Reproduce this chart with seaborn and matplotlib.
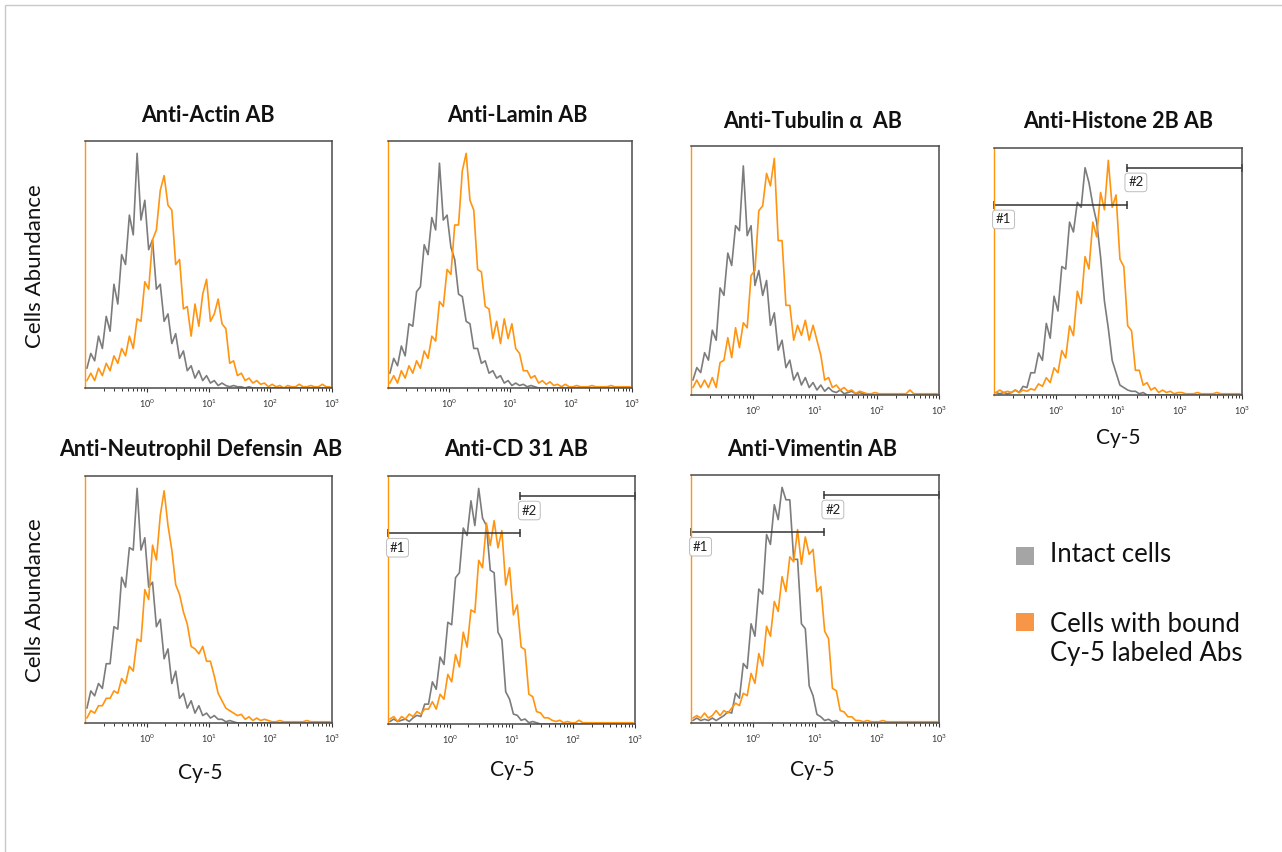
import numpy as np
import pandas as pd
import seaborn as sns
import matplotlib.pyplot as plt
import matplotlib.ticker as mticker
from matplotlib.patches import Rectangle

sns.set_theme(style="white")
plt.rcParams['font.family'] = ['Lato', 'DejaVu Sans']

# ---------------- data ----------------
N_BINS = 64
LOG_MIN, LOG_MAX = -1, 3          # Cy-5 axis: 10^-1 .. 10^3
cy5 = 10 ** (LOG_MIN + (np.arange(N_BINS) + 0.5) * (LOG_MAX - LOG_MIN) / N_BINS)

titles = ["Anti-Actin AB", "Anti-Lamin AB", "Anti-Tubulin \u03b1  AB", "Anti-Histone 2B AB",
          "Anti-Neutrophil Defensin  AB", "Anti-CD 31 AB", "Anti-Vimentin AB"]
series_names = ["Intact cells", "Cells with bound\nCy-5 labeled Abs"]

actin_intact = [8, 14, 11, 21, 16, 29, 23, 42, 34, 54, 50, 70, 62, 95, 68, 76, 56, 60, 40, 42,
                27, 30, 18, 22, 12, 15, 7, 9, 4, 7, 3, 5, 2, 3, 1, 2, 1, 0.5, 1, 0.5,
                0.5, 0, 0.5, 0, 0, 0, 0, 0, 0, 0, 0, 0, 0, 0, 0, 0, 0, 0, 0, 0, 0, 0, 0, 0]
actin_bound = [3, 6, 3, 8, 5, 10, 7, 13, 10, 16, 13, 21, 16, 28, 27, 43, 40, 60, 64, 80,
               86, 74, 72, 50, 52, 32, 33, 21, 34, 25, 38, 44, 27, 30, 36, 26, 24, 10, 11, 5,
               6, 3, 4, 2, 3, 1.5, 2, 0.5, 1.5, 0.5, 1, 0, 1, 0.5, 0.5, 1.5, 0.5, 0.5, 1, 0.5,
               0.5, 1.5, 0.5, 0.5]
lamin_intact = [6, 12, 9, 17, 13, 26, 25, 39, 41, 58, 54, 69, 64, 91, 68, 70, 57, 52, 38, 37,
                27, 26, 16, 16, 10, 11, 6, 7, 4, 5, 2, 3, 1, 2, 1, 1.5, 0.5, 1, 0.5, 0,
                0, 0, 0, 0, 0, 0, 0, 0, 0, 0, 0, 0, 0, 0, 0, 0, 0, 0, 0, 0, 0, 0, 0, 0]
lamin_bound = [2, 5, 2, 7, 4, 9, 6, 11, 8, 15, 12, 21, 19, 35, 33, 48, 46, 66, 66, 88,
               95, 76, 72, 48, 47, 33, 32, 20, 27, 18, 28, 20, 26, 16, 14, 7, 7, 4, 5, 2,
               3, 1.5, 2.5, 1, 1.5, 0.5, 1.5, 0.5, 0.5, 1, 0.5, 0.5, 0.5, 1, 0.5, 0.5, 0.5, 0.5, 1, 0.5,
               0.5, 0.5, 0.5, 0.5]
tubulin_intact = [6, 11, 9, 17, 14, 26, 22, 43, 40, 57, 52, 68, 66, 92, 64, 68, 44, 50, 40, 46,
                  28, 33, 18, 22, 11, 14, 6, 9, 4, 7, 3, 5, 2, 4, 1.5, 3, 1.5, 1, 2, 0.5,
                  1, 1.5, 0.5, 1, 0.5, 0, 0, 0, 0, 0, 0, 0, 0, 0, 0, 0, 0, 0, 0, 0, 0, 0, 0, 0]
tubulin_bound = [3, 6, 3, 6, 3, 7, 3, 13, 14, 23, 15, 27, 19, 29, 27, 48, 50, 74, 76, 89,
                 84, 95, 62, 62, 36, 36, 22, 28, 24, 30, 22, 28, 22, 16, 6, 7, 3, 4, 2, 3,
                 1.5, 2, 0.5, 1.5, 1, 0.5, 0.5, 1, 0.5, 0.5, 0.5, 0.5, 0.5, 0.5, 0.5, 0.5, 2, 0.5, 0.5, 0.5,
                 0.5, 0.5, 0.5, 0.5]
histone_intact = [1, 0.5, 1, 0.5, 1, 2, 1, 3.5, 3, 9, 9, 17, 14, 29, 23, 40, 34, 52, 51, 70,
                  66, 78, 76, 92, 86, 77, 70, 56, 38, 27, 14, 9, 4, 3, 2, 1.5, 1.5, 0.5, 1, 0,
                  0, 0, 0, 0, 0, 0, 0, 0, 0, 0, 0, 0, 0, 0, 0, 0, 0, 0, 0, 0, 0, 0, 0, 0]
histone_bound = [1, 2, 1, 1.5, 1, 2, 1, 2, 1.5, 2.5, 2, 4.5, 3.5, 7, 5, 11, 9, 18, 15, 28,
                 24, 42, 37, 56, 51, 70, 64, 82, 75, 95, 76, 81, 55, 52, 28, 26, 10, 10, 4, 5,
                 2, 3, 1, 2, 1, 1.5, 0.5, 1, 1, 0.5, 0.5, 0.5, 1, 0.5, 0.5, 0.5, 0.5, 1, 0.5, 0.5,
                 0.5, 0.5, 0.5, 0.5]
defensin_intact = [6, 13, 11, 16, 14, 24, 24, 39, 38, 59, 55, 71, 70, 95, 70, 75, 55, 57, 39, 42,
                   26, 30, 16, 21, 10, 12, 6, 9, 4, 7, 3, 4, 2, 3, 1.5, 1.5, 0.5, 1, 0.5, 0,
                   0, 0, 0, 0, 0, 0, 0, 0, 0, 0, 0, 0, 0, 0, 0, 0, 0, 0, 0, 0, 0, 0, 0, 0]
defensin_bound = [2, 5, 4, 7, 7, 10, 10, 13, 12, 18, 16, 23, 21, 34, 33, 54, 50, 72, 66, 84,
                  94, 80, 70, 56, 52, 45, 40, 31, 30, 28, 31, 25, 25, 19, 12, 9, 6, 5, 4, 3,
                  3.5, 1.5, 2.5, 1, 2, 1, 1.5, 1, 0.5, 0.5, 1, 0.5, 0.5, 0.5, 0.5, 0.5, 0.5, 1, 0.5, 0.5,
                  0.5, 0.5, 0.5, 0.5]
cd31_intact = [1, 2, 1, 1.5, 2, 1, 2.5, 3.5, 3, 8, 8, 17, 14, 27, 24, 41, 40, 59, 61, 79,
               76, 90, 80, 95, 83, 80, 62, 61, 37, 34, 13, 10, 4, 3.5, 1.5, 2, 0.5, 1, 0.5, 0,
               0, 0, 0, 0, 0, 0, 0, 0, 0, 0, 0, 0, 0, 0, 0, 0, 0, 0, 0, 0, 0, 0, 0, 0]
cd31_bound = [2, 3, 1, 3, 2, 4, 3, 5, 4, 6, 6, 9, 6, 12, 10, 20, 17, 28, 23, 37,
              31, 46, 45, 66, 63, 81, 72, 82, 71, 78, 56, 63, 44, 48, 31, 30, 12, 11, 5, 4.5,
              2.5, 2.5, 1.5, 1, 1.5, 0.5, 1, 0.5, 0.5, 1.5, 0.5, 0.5, 0.5, 0.5, 0.5, 0.5, 0.5, 0.5, 0.5, 0.5,
              0.5, 0.5, 0.5, 0.5]
vimentin_intact = [1, 2, 1, 1.5, 1, 2, 1, 2, 3, 4.5, 4, 12, 10, 24, 22, 40, 35, 54, 52, 76,
                   72, 88, 82, 95, 90, 90, 66, 66, 40, 38, 15, 11, 3.5, 2.5, 1, 1.5, 0.5, 1, 0, 0,
                   0, 0, 0, 0, 0, 0, 0, 0, 0, 0, 0, 0, 0, 0, 0, 0, 0, 0, 0, 0, 0, 0, 0, 0]
vimentin_bound = [2, 3, 2, 4, 2, 3, 5, 3, 5, 4, 6, 8, 7, 12, 11, 20, 16, 28, 23, 39,
                  35, 49, 45, 59, 53, 67, 65, 78, 64, 75, 68, 70, 53, 55, 37, 34, 14, 13, 5, 4.5,
                  2.5, 2.5, 1, 1, 0.5, 1, 0.5, 0.5, 0.5, 1, 0.5, 0.5, 0.5, 0.5, 0.5, 0.5, 0.5, 0.5, 0.5, 0.5,
                  0.5, 0.5, 0.5, 0.5]

intact = [actin_intact, lamin_intact, tubulin_intact, histone_intact,
          defensin_intact, cd31_intact, vimentin_intact]
bound = [actin_bound, lamin_bound, tubulin_bound, histone_bound,
         defensin_bound, cd31_bound, vimentin_bound]

# gates (Cy-5 boundary, gate heights in % of max)
gate_split = 10 ** 1.14
gate1_level, gate2_level = 77, 92
gated_panels = [3, 5, 6]

# ---------------- layout (pixels) ----------------
W, H = 1282, 852
boxes = [(85, 141, 332, 388), (388, 141, 632, 388), (691, 146, 939, 395), (994, 148, 1242, 395),
         (85, 476, 332, 723), (388, 476, 635, 724), (691, 475, 939, 723)]
title_pos = [(208, 115), (517, 115), (813, 122), (1118, 122), (201, 449), (516, 449), (812, 449)]
xlabel_pos = {3: (1118, 438), 4: (200, 773), 5: (512, 770), 6: (812, 770)}

GRAY = "#7c7c7c"
ORANGE = "#ff9410"
FRAME = "#4a4a4a"

fig = plt.figure(figsize=(W / 100, H / 100), dpi=100)
fig.patch.set_facecolor("white")

# outer light border
fig.add_artist(Rectangle((5 / W, -0.02), 1.02, 1 - 5 / H + 0.02, transform=fig.transFigure,
                         fill=False, ec="#c8c8c8", lw=1.0))

for k, (x0, y0, x1, y1) in enumerate(boxes):
    ax = fig.add_axes([x0 / W, 1 - y1 / H, (x1 - x0) / W, (y1 - y0) / H])
    df = pd.DataFrame({"Cy-5": np.concatenate([cy5, cy5]),
                       "count": np.concatenate([intact[k], bound[k]]),
                       "sample": [series_names[0]] * N_BINS + [series_names[1]] * N_BINS})
    sns.lineplot(data=df, x="Cy-5", y="count", hue="sample",
                 palette=[GRAY, ORANGE], ax=ax, legend=False,
                 lw=1.2, estimator=None)
    ax.set_xscale("log")
    ax.set_xlim(10 ** LOG_MIN, 10 ** LOG_MAX)
    ax.set_ylim(0, 100)
    ax.set_xlabel("")
    ax.set_ylabel("")
    ax.set_yticks([])
    ax.xaxis.set_major_locator(mticker.FixedLocator([1, 10, 100, 1000]))
    ax.xaxis.set_minor_locator(mticker.LogLocator(base=10, subs=np.arange(2, 10)))
    ax.xaxis.set_minor_formatter(mticker.NullFormatter())
    ax.tick_params(axis="x", which="major", direction="out", length=3, width=0.8,
                   color="#333333", labelsize=6.5, labelcolor="#333333", pad=4, bottom=True)
    ax.tick_params(axis="x", which="minor", direction="out", length=2, width=0.7,
                   color="#333333", bottom=True)
    for side in ["top", "right", "bottom"]:
        ax.spines[side].set_color(FRAME)
        ax.spines[side].set_linewidth(1.1)
    ax.spines["left"].set_color(ORANGE)
    ax.spines["left"].set_linewidth(1.0)

    tx, ty = title_pos[k]
    fig.text(tx / W, 1 - ty / H, titles[k], ha="center", va="center",
             fontsize=15.5, fontweight="bold", color="#111111")

    if k in gated_panels:
        ax.plot([10 ** LOG_MIN, gate_split], [gate1_level, gate1_level], color="#333333", lw=1.1,
                marker="|", markersize=6, markeredgewidth=1.1, clip_on=False)
        ax.plot([gate_split, 10 ** LOG_MAX], [gate2_level, gate2_level], color="#333333", lw=1.1,
                marker="|", markersize=6, markeredgewidth=1.1, clip_on=False)
        box = dict(boxstyle="round,pad=0.25", fc="white", ec="#bdbdbd", lw=0.7)
        ax.text(10 ** (LOG_MIN + 0.03), gate1_level - 3.5, "#1", fontsize=9.5, color="#222222",
                ha="left", va="top", bbox=box)
        ax.text(gate_split * 1.06, gate2_level - 3.5, "#2", fontsize=9.5, color="#222222",
                ha="left", va="top", bbox=box)

for k, (lx, ly) in xlabel_pos.items():
    fig.text(lx / W, 1 - ly / H, "Cy-5", ha="center", va="center", fontsize=15, color="#111111")

for cy in (266, 600):
    fig.text(35 / W, 1 - cy / H, "Cells Abundance", ha="center", va="center",
             rotation=90, fontsize=16, color="#111111")

# legend
fig.add_artist(Rectangle((1016 / W, 1 - 565 / H), 18 / W, 18 / H, transform=fig.transFigure,
                         fc="#a5a5a5", ec="none"))
fig.add_artist(Rectangle((1016 / W, 1 - 631 / H), 18 / W, 18 / H, transform=fig.transFigure,
                         fc="#f79646", ec="none"))
fig.text(1050 / W, 1 - 555 / H, series_names[0], ha="left", va="center", fontsize=18.5, color="#111111")
fig.text(1050 / W, 1 - 639 / H, series_names[1], ha="left", va="center", fontsize=18.5,
         color="#111111", linespacing=1.2)

fig.savefig("out.png", dpi=100, facecolor="white")
